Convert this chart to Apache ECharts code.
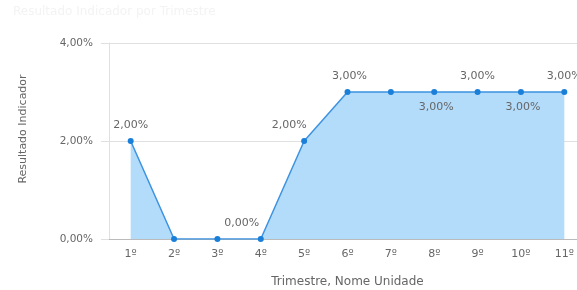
<!DOCTYPE html>
<html>
<head>
<meta charset="utf-8">
<script src="https://cdn.jsdelivr.net/npm/echarts@6/dist/echarts.min.js"></script>
<style>
  html, body { margin: 0; padding: 0; background: #fff; }
  #chart { width: 577px; height: 290px; }
</style>
</head>
<body>
<div id="chart"></div>
<script>
const categories = ['1º', '2º', '3º', '4º', '5º', '6º', '7º', '8º', '9º', '10º', '11º'];
const values = [2, 0, 0, 0, 2, 3, 3, 3, 3, 3, 3];
const yTicks = [0, 2, 4];

// label placement per point (null = hidden)
const labelPos = ['top', null, null, 'top', 'top', 'top', null, 'bottom', 'top', 'bottom', 'top'];
const labelShift = [0, 0, 0, -19, -15, 2, 0, 2, 0, 2, 0];

const fmt = v => v.toFixed(2).replace('.', ',') + '%';

const chart = echarts.init(document.getElementById('chart'));
chart.setOption({
  animation: false,
  backgroundColor: '#fff',
  title: {
    text: 'Resultado Indicador por Trimestre',
    left: 8, top: 1,
    textStyle: { color: '#f3f3f3', fontSize: 12, fontWeight: 'normal', fontFamily: 'Verdana, DejaVu Sans' }
  },
  grid: { left: 109, width: 477, top: 43, bottom: 51, containLabel: false, outerBoundsMode: 'none' },
  xAxis: {
    type: 'category',
    data: categories,
    boundaryGap: true,
    name: 'Trimestre, Nome Unidade',
    nameLocation: 'middle',
    nameGap: 37,
    nameTextStyle: { color: '#666', fontSize: 12, fontFamily: 'Verdana, DejaVu Sans' },
    axisLine: { lineStyle: { color: '#bbb' } },
    axisTick: { show: false },
    axisLabel: { color: '#666', fontSize: 11, margin: 10, fontFamily: 'Verdana, DejaVu Sans' }
  },
  yAxis: {
    type: 'value',
    min: 0, max: 4, interval: 2,
    name: 'Resultado Indicador',
    nameLocation: 'middle',
    nameGap: 80,
    nameTextStyle: { color: '#666', fontSize: 11, fontFamily: 'Verdana, DejaVu Sans', padding: [0, 0, 0, 24] },
    axisLine: { show: true, lineStyle: { color: '#e0e0e0' } },
    axisTick: { show: true, length: 8, lineStyle: { color: '#e0e0e0' } },
    splitLine: { lineStyle: { color: '#e0e0e0' } },
    axisLabel: {
      color: '#666', fontSize: 10.5, margin: 16, fontFamily: 'Verdana, DejaVu Sans',
      formatter: v => yTicks.includes(v) ? fmt(v) : ''
    }
  },
  series: [{
    type: 'line',
    data: values.map((v, i) => ({
      value: v,
      label: labelPos[i]
        ? { show: true, position: labelPos[i], offset: [labelShift[i], labelPos[i] === 'top' ? -2 : 2] }
        : { show: false }
    })),
    symbol: 'circle',
    symbolSize: 6,
    itemStyle: { color: '#1a7fd8' },
    lineStyle: { color: '#3d93e0', width: 1.5 },
    areaStyle: { color: '#b3dbfa', opacity: 1 },
    label: {
      color: '#666', fontSize: 11, fontFamily: 'Verdana, DejaVu Sans',
      formatter: p => fmt(p.value)
    }
  }]
});
</script>
</body>
</html>
